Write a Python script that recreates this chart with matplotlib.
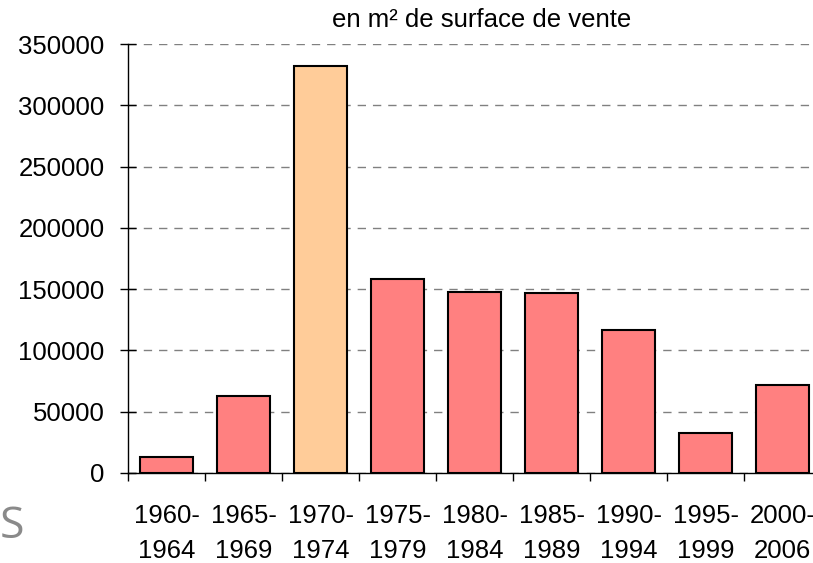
import numpy as np
import matplotlib.pyplot as plt

plt.rcParams['font.family'] = ['Liberation Sans', 'DejaVu Sans']

periods = ['1960-\n1964', '1965-\n1969', '1970-\n1974', '1975-\n1979', '1980-\n1984',
           '1985-\n1989', '1990-\n1994', '1995-\n1999', '2000-\n2006']
surface = [13000, 63000, 332000, 158000, 148000, 147000, 117000, 33000, 72000]
highlight = '1970-\n1974'
y_ticks = [0, 50000, 100000, 150000, 200000, 250000, 300000, 350000]

fig = plt.figure(figsize=(8.13, 5.63), dpi=100)
ax = fig.add_axes([128 / 813, 90 / 563, 693 / 813, 429 / 563])

x = np.arange(len(periods))
colors = ['#FFCC99' if p == highlight else '#FF8080' for p in periods]
ax.bar(x, surface, width=0.68, color=colors, edgecolor='black', linewidth=1.5, zorder=3)

ax.set_xlim(-0.5, len(periods) - 0.5)
ax.set_ylim(0, 350000)
ax.set_yticks(y_ticks)
ax.set_yticklabels([str(v) for v in y_ticks], fontsize=18.5)
ax.yaxis.grid(True, color='#808080', linestyle=(0, (6, 5)), linewidth=1.0, zorder=0)

ax.set_xticks(x)
ax.set_xticklabels(periods, fontsize=18.5, linespacing=1.55)
ax.set_xticks(np.arange(len(periods) + 1) - 0.5, minor=True)
ax.tick_params(axis='x', which='major', length=0, pad=22.5)
ax.tick_params(axis='x', which='minor', direction='out', length=6, width=1)
ax.tick_params(axis='y', direction='inout', length=12, width=1, pad=11)

for side in ['top', 'right']:
    ax.spines[side].set_visible(False)
ax.spines['left'].set_linewidth(1.0)
ax.spines['bottom'].set_linewidth(1.0)

fig.text(482 / 813, 1 - 20 / 563, 'en m² de surface de vente', ha='center', va='center',
         fontsize=18.5)
fig.text(0, 1 - 527 / 563, 'S', ha='left', va='center', fontsize=32,
         color='#8a8a8a', family=['Open Sans', 'DejaVu Sans'])

fig.savefig('out.png', dpi=100)
